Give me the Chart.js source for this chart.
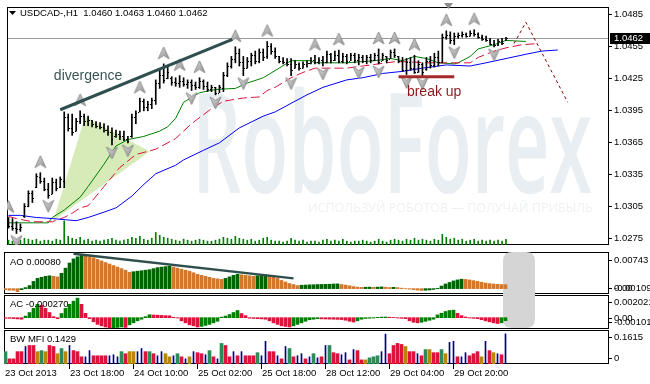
<!DOCTYPE html>
<html><head><meta charset="utf-8">
<script src="https://cdn.jsdelivr.net/npm/chart.js@4/dist/chart.umd.min.js"></script>
<style>
html,body{margin:0;padding:0;background:#fff;width:650px;height:384px;overflow:hidden;}
#wrap{position:relative;width:650px;height:384px;}
canvas{position:absolute;left:0;}
</style></head><body>
<div id="wrap">
<canvas id="cMain" width="650" height="252" style="top:0px"></canvas>
<canvas id="cAO" width="650" height="56" style="top:246px"></canvas>
<canvas id="cAC" width="650" height="46" style="top:289px"></canvas>
<canvas id="cMFI" width="650" height="60" style="top:324px"></canvas>
</div>
<script>
// ================= DATA =================
const symbol = 'USDCAD-,H1';
const xTickIndex = [0,16,32,48,64,80,96,112];
const xTickLabels = ['23 Oct 2013','23 Oct 18:00','24 Oct 10:00','25 Oct 02:00','25 Oct 18:00','28 Oct 12:00','29 Oct 04:00','29 Oct 20:00'];
const priceTicks = [1.0275,1.0305,1.0335,1.0365,1.0395,1.0425,1.0455,1.0485];
const aoTicks = [0.00743, 0, -0.00109];
const acTicks = [0.002021, 0, -0.00101];
const mfiTicks = [0.1615, 0];

const opens = [
1.0289,1.0286,1.0284,1.0283,1.0295,1.0305,1.0317,1.0323,1.0332,1.0328,
1.0321,1.0316,1.0327,1.0323,1.0328,1.0388,1.0378,1.0375,1.0384,1.0389,
1.0384,1.0385,1.0382,1.0380,1.0379,1.0376,1.0374,1.0370,1.0372,1.0370,
1.0368,1.0370,1.0388,1.0393,1.0403,1.0398,1.0400,1.0404,1.0420,1.0428,
1.0425,1.0425,1.0421,1.0420,1.0422,1.0419,1.0421,1.0418,1.0416,1.0422,
1.0417,1.0414,1.0416,1.0411,1.0415,1.0428,1.0436,1.0443,1.0448,1.0440,
1.0434,1.0441,1.0446,1.0441,1.0449,1.0445,1.0455,1.0450,1.0445,1.0441,
1.0440,1.0438,1.0434,1.0438,1.0434,1.0438,1.0439,1.0442,1.0440,1.0442,
1.0440,1.0447,1.0442,1.0446,1.0441,1.0445,1.0441,1.0446,1.0442,1.0444,
1.0441,1.0444,1.0442,1.0446,1.0441,1.0445,1.0443,1.0449,1.0445,1.0441,
1.0432,1.0440,1.0434,1.0430,1.0438,1.0433,1.0441,1.0437,1.0444,1.0440,
1.0463,1.0465,1.0460,1.0464,1.0465,1.0466,1.0464,1.0467,1.0466,1.0463,
1.0461,1.0460,1.0457,1.0456,1.0459,1.0460];
const highs = [
1.0294,1.0293,1.0290,1.0288,1.0307,1.0319,1.0319,1.0335,1.0336,1.0331,
1.0326,1.0331,1.0330,1.0332,1.0393,1.0391,1.0391,1.0387,1.0394,1.0391,
1.0389,1.0385,1.0384,1.0383,1.0382,1.0380,1.0378,1.0376,1.0375,1.0375,
1.0370,1.0391,1.0394,1.0406,1.0405,1.0403,1.0406,1.0423,1.0432,1.0438,
1.0436,1.0426,1.0425,1.0427,1.0425,1.0423,1.0423,1.0421,1.0425,1.0423,
1.0421,1.0418,1.0416,1.0418,1.0430,1.0439,1.0445,1.0454,1.0452,1.0445,
1.0444,1.0448,1.0450,1.0452,1.0452,1.0459,1.0457,1.0453,1.0445,1.0444,
1.0443,1.0443,1.0441,1.0439,1.0440,1.0441,1.0444,1.0446,1.0444,1.0445,
1.0450,1.0448,1.0450,1.0451,1.0448,1.0447,1.0448,1.0448,1.0447,1.0446,
1.0446,1.0447,1.0448,1.0452,1.0448,1.0445,1.0451,1.0452,1.0445,1.0444,
1.0443,1.0444,1.0446,1.0441,1.0439,1.0444,1.0445,1.0448,1.0450,1.0466,
1.0469,1.0468,1.0467,1.0467,1.0468,1.0467,1.0469,1.0470,1.0467,1.0465,
1.0464,1.0462,1.0460,1.0461,1.0462,1.0463];
const lows = [
1.0284,1.0282,1.0279,1.0281,1.0294,1.0304,1.0308,1.0322,1.0326,1.0319,
1.0312,1.0316,1.0319,1.0322,1.0322,1.0375,1.0371,1.0375,1.0382,1.0380,
1.0380,1.0379,1.0378,1.0377,1.0374,1.0371,1.0362,1.0369,1.0367,1.0366,
1.0364,1.0369,1.0382,1.0393,1.0394,1.0394,1.0396,1.0400,1.0415,1.0420,
1.0424,1.0418,1.0417,1.0416,1.0417,1.0415,1.0413,1.0414,1.0415,1.0414,
1.0412,1.0412,1.0409,1.0411,1.0412,1.0426,1.0434,1.0439,1.0436,1.0427,
1.0434,1.0436,1.0438,1.0439,1.0441,1.0443,1.0447,1.0443,1.0439,1.0438,
1.0436,1.0427,1.0434,1.0432,1.0434,1.0435,1.0438,1.0438,1.0438,1.0436,
1.0439,1.0439,1.0441,1.0439,1.0439,1.0438,1.0441,1.0439,1.0437,1.0439,
1.0438,1.0439,1.0441,1.0438,1.0441,1.0439,1.0443,1.0444,1.0439,1.0431,
1.0428,1.0432,1.0429,1.0430,1.0427,1.0432,1.0434,1.0435,1.0436,1.0439,
1.0461,1.0457,1.0456,1.0462,1.0463,1.0463,1.0464,1.0464,1.0462,1.0460,
1.0459,1.0456,1.0454,1.0455,1.0456,1.0460];
const closes = [
1.0286,1.0284,1.0283,1.0285,1.0305,1.0317,1.0312,1.0333,1.0328,1.0321,
1.0315,1.0327,1.0322,1.0330,1.0388,1.0378,1.0374,1.0384,1.0389,1.0384,
1.0385,1.0382,1.0380,1.0379,1.0376,1.0374,1.0368,1.0372,1.0370,1.0368,
1.0366,1.0388,1.0392,1.0403,1.0398,1.0400,1.0404,1.0420,1.0428,1.0423,
1.0430,1.0421,1.0420,1.0422,1.0419,1.0421,1.0418,1.0416,1.0422,1.0417,
1.0414,1.0416,1.0411,1.0416,1.0428,1.0436,1.0443,1.0448,1.0440,1.0434,
1.0441,1.0446,1.0441,1.0449,1.0444,1.0455,1.0450,1.0445,1.0441,1.0440,
1.0438,1.0432,1.0438,1.0434,1.0438,1.0439,1.0442,1.0440,1.0442,1.0440,
1.0447,1.0442,1.0446,1.0441,1.0445,1.0441,1.0446,1.0442,1.0444,1.0441,
1.0444,1.0442,1.0446,1.0440,1.0446,1.0442,1.0449,1.0446,1.0441,1.0432,
1.0440,1.0434,1.0430,1.0438,1.0430,1.0441,1.0437,1.0444,1.0440,1.0463,
1.0465,1.0460,1.0464,1.0465,1.0466,1.0464,1.0467,1.0466,1.0463,1.0461,
1.0460,1.0457,1.0456,1.0459,1.0458,1.0462];
const volumes = [
500,400,600,500,700,600,500,600,400,500,
500,400,600,500,2500,900,700,600,800,500,
600,400,500,400,500,600,700,500,400,500,
600,800,700,900,600,500,700,1300,1000,800,
700,600,500,400,600,500,400,500,600,500,
400,400,500,600,800,700,600,900,700,600,
500,600,400,500,700,800,500,400,400,300,
400,700,500,400,500,300,400,400,300,500,
600,400,500,400,600,400,300,400,400,500,
400,300,400,600,400,300,500,600,500,400,
600,500,700,500,600,500,400,600,500,1100,
800,600,700,500,600,400,500,600,400,500,
400,500,400,500,400,600];

// Alligator lines as [bar index, price]
const jawBlue = [[0,1.0296],[3,1.0296],[7,1.0294],[11,1.0293],[17,1.0291],[20,1.0294],[24,1.0299],[27,1.0303],[31,1.0314],[34,1.0325],[37,1.0335],[42,1.0343],[44,1.0348],[49,1.0357],[53,1.0364],[58,1.0378],[64,1.0389],[67,1.0393],[71,1.0401],[75,1.0409],[79,1.0416],[85,1.0423],[89,1.0425],[94,1.0429],[99,1.0431],[104,1.0434],[110,1.0437],[116,1.0436],[120,1.0439],[125,1.0443],[130,1.0447],[134,1.0450],[138,1.0451]];
const teethRed = [[0,1.0295],[2,1.0293],[6,1.0290],[11,1.0290],[14,1.0294],[16,1.0298],[18,1.0303],[20,1.0305],[24,1.0323],[28,1.0341],[32,1.0353],[37,1.0358],[42,1.0368],[46,1.0382],[51,1.0396],[54,1.0403],[59,1.0406],[63,1.0407],[65,1.0413],[67,1.0416],[71,1.0425],[74,1.0430],[77,1.0434],[85,1.0434],[89,1.0436],[93,1.0438],[97,1.0440],[100,1.0440],[105,1.0439],[116,1.0439],[118,1.0444],[122,1.0450],[125,1.0453],[129,1.0456],[133,1.0457]];
const lipsGreen = [[0,1.0289],[10,1.0289],[11,1.0294],[14,1.0301],[18,1.0313],[20,1.0323],[24,1.0344],[27,1.0361],[30,1.0367],[34,1.0370],[38,1.0375],[40,1.0379],[42,1.0387],[44,1.0402],[48,1.0411],[52,1.0414],[57,1.0415],[60,1.0420],[64,1.0425],[68,1.0434],[71,1.0441],[76,1.0441],[77,1.0439],[85,1.0439],[92,1.0441],[96,1.0443],[99,1.0441],[102,1.0445],[105,1.0443],[108,1.0439],[112,1.0438],[113,1.0439],[116,1.0445],[118,1.0452],[122,1.0456],[125,1.0460],[130,1.0459]];

const fractalUp = [0,8,18,33,39,43,48,57,65,77,83,93,97,102,110,117];
const fractalDown = [2,10,26,30,46,52,59,71,79,88,93,100,104,112,122];

const divergencePrice = [[13,1.0395],[56.25,1.0461]];
const divergenceAO = [[17,0.00707],[72,0.00208]];
const breakUpLine = [[98,1.0426],[112,1.0426]];
const projection = [[127,1.0457],[130,1.0477],[140.5,1.0402]];
const greenTriangle = [[11.25,1.02909],[19.25,1.03884],[35.5,1.03559]];
const notes = [{text:'divergence', x:11.4, y:1.04263, color:'#3b5555'},{text:'break up', x:100.1, y:1.04119, color:'#8b1c1c'}];

const aoValues = [
-0.00021,-0.00031,-0.00033,-0.00062,-0.00021,0.00021,0.00062,0.00146,0.00208,0.00229,
0.00250,0.00260,0.00250,0.00239,0.00312,0.00416,0.00520,0.00603,0.00645,0.00676,
0.00666,0.00645,0.00624,0.00593,0.00562,0.00530,0.00499,0.00468,0.00437,0.00406,
0.00374,0.00333,0.00343,0.00354,0.00364,0.00374,0.00385,0.00406,0.00426,0.00437,
0.00447,0.00458,0.00437,0.00416,0.00395,0.00374,0.00354,0.00322,0.00291,0.00270,
0.00250,0.00229,0.00208,0.00198,0.00187,0.00208,0.00239,0.00270,0.00291,0.00281,
0.00270,0.00260,0.00250,0.00260,0.00270,0.00277,0.00260,0.00239,0.00208,0.00166,
0.00135,0.00104,0.00083,0.00062,0.00069,0.00073,0.00077,0.00079,0.00083,0.00085,
0.00087,0.00089,0.00094,0.00096,0.00083,0.00073,0.00058,0.00042,0.00031,0.00025,
0.00029,0.00031,0.00027,0.00031,0.00035,0.00029,0.00023,0.00027,0.00021,0.00010,
-0.00004,-0.00010,-0.00021,-0.00031,-0.00037,-0.00033,-0.00027,-0.00017,0.00006,0.00052,
0.00094,0.00125,0.00156,0.00177,0.00191,0.00187,0.00177,0.00162,0.00146,0.00129,
0.00114,0.00102,0.00094,0.00087,0.00083,0.00080];
const acValues = [
-0.00005,-0.00006,-0.00009,-0.00011,-0.00014,0.00014,0.00046,0.00083,0.00119,0.00110,
0.00083,0.00046,0.00009,-0.00009,0.00037,0.00083,0.00119,0.00147,0.00174,0.00119,
0.00039,-0.00009,-0.00037,-0.00060,-0.00073,-0.00083,-0.00092,-0.00090,-0.00087,-0.00083,
-0.00087,-0.00064,-0.00046,-0.00028,-0.00014,0.00009,0.00026,0.00024,0.00022,0.00020,
0.00018,0.00017,0.00003,-0.00003,-0.00028,-0.00046,-0.00064,-0.00073,-0.00083,-0.00078,
-0.00069,-0.00060,-0.00046,-0.00032,0.00005,0.00014,0.00028,0.00046,0.00064,0.00037,
0.00018,-0.00005,-0.00007,-0.00009,-0.00011,-0.00014,-0.00028,-0.00046,-0.00060,-0.00073,
-0.00078,-0.00083,-0.00073,-0.00060,-0.00046,-0.00032,-0.00018,-0.00014,-0.00009,-0.00011,
-0.00012,-0.00013,-0.00014,-0.00015,-0.00017,-0.00023,-0.00032,-0.00039,-0.00028,-0.00014,
-0.00007,-0.00005,-0.00003,0.00003,0.00005,0.00006,0.00004,0.00002,-0.00003,-0.00006,
-0.00009,-0.00028,-0.00041,-0.00046,-0.00041,-0.00032,-0.00023,-0.00014,0.00025,0.00039,
0.00055,0.00064,0.00067,0.00039,0.00018,0.00006,-0.00003,-0.00006,-0.00009,-0.00018,
-0.00028,-0.00037,-0.00046,-0.00052,-0.00046,-0.00027];
const mfiValues = [
0.0587,0.0245,0.0245,0.0587,0.0587,0.0831,0.0880,0.0880,0.0587,0.0636,
0.0587,0.0880,0.0831,0.0489,0.0734,0.0587,0.0880,0.0636,0.0587,0.0342,
0.0342,0.0636,0.0391,0.0391,0.0391,0.0391,0.0391,0.0440,0.0342,0.0587,
0.0489,0.0587,0.0587,0.0587,0.0734,0.0587,0.0587,0.0489,0.0391,0.0587,
0.0489,0.0342,0.0391,0.0489,0.0342,0.0245,0.0342,0.0587,0.0538,0.0489,
0.0440,0.0636,0.0342,0.0245,0.0978,0.0880,0.0342,0.0587,0.0391,0.0587,
0.0391,0.0391,0.0391,0.0538,0.0391,0.1076,0.0587,0.0587,0.0391,0.0245,
0.0831,0.0734,0.0342,0.0391,0.0489,0.0245,0.0342,0.0489,0.0293,0.0342,
0.0880,0.0880,0.0538,0.0489,0.0440,0.0538,0.0196,0.0685,0.0636,0.0196,
0.0196,0.0293,0.0342,0.0391,0.0587,0.1418,0.0489,0.0880,0.0978,0.0929,
0.0831,0.0587,0.0587,0.0489,0.0391,0.0685,0.0685,0.0538,0.0538,0.0685,
0.0489,0.1027,0.1076,0.0342,0.0342,0.0538,0.0391,0.0489,0.0587,0.0342,
0.1076,0.0636,0.0538,0.0489,0.0440,0.1429];
// g = green (MFI up, vol up), y = fade, b = fake, r = squat
const mfiKinds = 'grrrrbrrygyrrygybrrrbbrrrrbbbgryybbrgrbbyybgrbybrrbgrbgrrbrbrrrgbbrrbrbgrbbrbgbrbgrrbbrbrrygggbbrrrryrrbrgyrrgybbrbbrrrybrybrb';

// ================= STYLE / HELPERS =================
const X_MIN = -0.375, X_MAX = 150.875;
const FONT = '9.5px "Liberation Sans", Arial, sans-serif';
const PAD = (top,bottom)=>({left:4,right:41,top:top,bottom:bottom});
const pts = pairs => pairs.map(p => ({x:p[0], y:p[1]}));
const upDown = (arr, up, down) => arr.map((v,i)=> i===0 ? down : (v > arr[i-1] ? up : down));
const last = closes.length - 1;

function arrowImg(dir){
  const c = document.createElement('canvas'); c.width = 13; c.height = 40;
  const g = c.getContext('2d');
  const t = dir === 'up' ? 3 : 22;
  g.beginPath();
  if (dir === 'up'){ g.moveTo(6.5,t); g.lineTo(12,t+12); g.lineTo(6.5,t+8.5); g.lineTo(1,t+12); }
  else { g.moveTo(6.5,t+12); g.lineTo(12,t); g.lineTo(6.5,t+3.5); g.lineTo(1,t); }
  g.closePath();
  const gr = g.createLinearGradient(0,t,13,t+12);
  gr.addColorStop(0,'#e0e0e0'); gr.addColorStop(1,'#8a8a8a');
  g.fillStyle = gr; g.fill();
  g.strokeStyle = '#8e8e8e'; g.lineWidth = 1; g.stroke();
  return c;
}
const upImg = arrowImg('up'), downImg = arrowImg('down');

function frame(chart){
  const {ctx, chartArea:a} = chart;
  ctx.save(); ctx.strokeStyle = '#000'; ctx.lineWidth = 1;
  ctx.strokeRect(a.left+0.5, a.top+0.5, a.right-a.left-1, a.bottom-a.top-1);
  ctx.restore();
}
const rightLabels = {
  id:'rlabels',
  afterDraw(chart, args, o){
    const {ctx, chartArea:a} = chart; const ys = chart.scales.y;
    ctx.save(); ctx.font = FONT; ctx.fillStyle = '#000'; ctx.textBaseline = 'middle'; ctx.textAlign = 'left';
    o.values.forEach(v => {
      let y = ys.getPixelForValue(v);
      if (o.clamp) y = Math.min(Math.max(y, a.top + o.clamp[0]), a.bottom - o.clamp[1]);
      y = Math.round(y);
      ctx.fillRect(a.right, y, 3, 1);
      ctx.fillText(o.format(v), a.right + 5, y + 0.5);
    });
    ctx.restore();
  }
};
function panelTitle(chart, text, dy){
  const {ctx, chartArea:a} = chart;
  ctx.save(); ctx.font = FONT; ctx.fillStyle = '#000'; ctx.textBaseline = 'middle';
  ctx.fillText(text, a.left + 6, a.top + dy);
  ctx.restore();
}
function shade(chart, canvasTop){
  const ctx = chart.ctx;
  const x = 503, y = 252 - canvasTop, w = 32, h = 76, r = 9;
  ctx.save(); ctx.fillStyle = '#d5d5d5';
  ctx.beginPath();
  ctx.moveTo(x+r,y); ctx.lineTo(x+w-r,y); ctx.quadraticCurveTo(x+w,y,x+w,y+r);
  ctx.lineTo(x+w,y+h-r); ctx.quadraticCurveTo(x+w,y+h,x+w-r,y+h);
  ctx.lineTo(x+r,y+h); ctx.quadraticCurveTo(x,y+h,x,y+h-r);
  ctx.lineTo(x,y+r); ctx.quadraticCurveTo(x,y,x+r,y);
  ctx.fill(); ctx.restore();
}
function baseOptions(yScales, padding, plugins){
  return {
    responsive:false, animation:false, events:[],
    layout:{padding:padding},
    scales:Object.assign({x:{type:'linear', min:X_MIN, max:X_MAX, display:false, offset:false}}, yScales),
    plugins:Object.assign({legend:{display:false}, tooltip:{enabled:false}}, plugins)
  };
}

// ================= MAIN CHART =================
const mainDecor = {
  id:'mainDecor',
  beforeDatasetsDraw(chart){
    const {ctx, chartArea:a, scales:{x:xs, y:ys}} = chart;
    ctx.save();
    // watermark
    ctx.fillStyle = '#e9eef2';
    ctx.font = '600 140px "Open Sans", sans-serif';
    const wm = 'RoboForex';
    const w0 = ctx.measureText(wm).width;
    ctx.translate(192, 193); ctx.scale(400 / w0, 1);
    ctx.fillText(wm, 0, 0);
    ctx.setTransform(1,0,0,1,0,0);
    ctx.fillStyle = '#eef1f4';
    ctx.font = '13px "Open Sans", sans-serif';
    const sl = 'ИСПОЛЬЗУЙ РОБОТОВ — ПОЛУЧАЙ ПРИБЫЛЬ';
    const sw = ctx.measureText(sl).width;
    ctx.translate(308, 212); ctx.scale(285 / sw, 1);
    ctx.fillText(sl, 0, 0);
    ctx.setTransform(1,0,0,1,0,0);
    // green triangle
    ctx.fillStyle = 'rgba(200,228,160,0.75)';
    ctx.beginPath();
    greenTriangle.forEach((p,k) => { const X = xs.getPixelForValue(p[0]), Y = ys.getPixelForValue(p[1]); if (k) ctx.lineTo(X,Y); else ctx.moveTo(X,Y); });
    ctx.closePath(); ctx.fill();
    // bid line
    const yb = Math.round(ys.getPixelForValue(closes[last]));
    ctx.fillStyle = '#9a9a9a'; ctx.fillRect(a.left, yb, a.right - a.left, 1);
    ctx.restore();
    frame(chart);
  },
  afterDatasetsDraw(chart){
    const {ctx, scales:{x:xs, y:ys}} = chart;
    ctx.save(); ctx.fillStyle = '#000';
    for (let i = 0; i <= last; i++){
      const x = Math.floor(xs.getPixelForValue(i));
      ctx.fillRect(x-1, Math.round(ys.getPixelForValue(opens[i])), 1, 1);
      ctx.fillRect(x+1, Math.round(ys.getPixelForValue(closes[i])), 1, 1);
    }
    ctx.font = '14px "Liberation Sans", Arial, sans-serif'; ctx.textBaseline = 'middle';
    notes.forEach(n => { ctx.fillStyle = n.color; ctx.fillText(n.text, xs.getPixelForValue(n.x), ys.getPixelForValue(n.y)); });
    ctx.restore();
  },
  afterDraw(chart){
    const {ctx, chartArea:a, scales:{y:ys}} = chart;
    ctx.save();
    // header
    ctx.fillStyle = '#000';
    ctx.beginPath(); ctx.moveTo(9,11); ctx.lineTo(16,11); ctx.lineTo(12.5,15); ctx.closePath(); ctx.fill();
    ctx.font = FONT; ctx.textBaseline = 'middle';
    const f = v => v.toFixed(4);
    ctx.fillText(symbol + '  ' + f(opens[last]) + ' ' + f(highs[last]) + ' ' + f(lows[last]) + ' ' + f(closes[last]), 20, 13.5);
    // price box
    const yb = Math.round(ys.getPixelForValue(closes[last]));
    ctx.fillRect(a.right + 1, yb - 5, 650 - a.right - 1, 11);
    ctx.fillStyle = '#fff'; ctx.fillText(f(closes[last]), a.right + 5, yb + 0.5);
    // chart shift marker
    ctx.fillStyle = '#8c8c8c';
    ctx.beginPath(); ctx.moveTo(444,3); ctx.lineTo(453,3); ctx.lineTo(448.5,9); ctx.closePath(); ctx.fill();
    ctx.restore();
  }
};

new Chart(document.getElementById('cMain'), {
  type:'bar',
  data:{datasets:[
    {type:'bar', label:'Volume', data:volumes.map((v,i)=>({x:i,y:v})), yAxisID:'yVol', backgroundColor:'#008000', barThickness:1, grouped:false, order:9},
    {type:'line', label:'Jaw', data:pts(jawBlue), borderColor:'#0000ff', borderWidth:1, pointRadius:0, tension:0, order:7},
    {type:'line', label:'Teeth', data:pts(teethRed), borderColor:'#dc143c', borderWidth:1, borderDash:[9,4], pointRadius:0, tension:0, order:7},
    {type:'line', label:'Lips', data:pts(lipsGreen), borderColor:'#008000', borderWidth:1, pointRadius:0, tension:0, order:7},
    {type:'bar', label:'Range', data:highs.map((h,i)=>({x:i,y:[lows[i],h]})), backgroundColor:'#000', barThickness:1, grouped:false, order:5},
    {type:'line', label:'Fractal up', data:fractalUp.map(i=>({x:i,y:highs[i]})), showLine:false, pointStyle:upImg, pointRadius:6, order:3},
    {type:'line', label:'Fractal down', data:fractalDown.map(i=>({x:i,y:lows[i]})), showLine:false, pointStyle:downImg, pointRadius:6, order:3},
    {type:'line', label:'Divergence', data:pts(divergencePrice), borderColor:'#2f4f4f', borderWidth:3, pointRadius:0, order:2},
    {type:'line', label:'Break up', data:pts(breakUpLine), borderColor:'#a52a2a', borderWidth:3, pointRadius:0, order:2},
    {type:'line', label:'Projection', data:pts(projection), borderColor:'#8b0000', borderWidth:1, borderDash:[3,3], pointRadius:0, order:2}
  ]},
  options:baseOptions({
    y:{type:'linear', min:1.026821, max:1.049132, display:false},
    yVol:{type:'linear', min:0, max:24700, display:false}
  }, PAD(4,1), {rlabels:{values:priceTicks, format:v=>v.toFixed(4)}}),
  plugins:[mainDecor, rightLabels]
});

// ================= AO =================
new Chart(document.getElementById('cAO'), {
  type:'bar',
  data:{datasets:[
    {label:'AO', data:aoValues.map((v,i)=>({x:i,y:v})), backgroundColor:upDown(aoValues,'#006400','#d2782d'), barThickness:3, grouped:false, order:5},
    {type:'line', label:'AO divergence', data:pts(divergenceAO), borderColor:'#2f4f4f', borderWidth:2.5, pointRadius:0, order:1}
  ]},
  options:baseOptions({y:{type:'linear', min:-0.00109, max:0.00743, display:false}}, PAD(6,8),
    {rlabels:{values:aoTicks, clamp:[8,6], format:v=> v===0 ? '0.00' : String(v)}}),
  plugins:[{id:'aoDecor', beforeDatasetsDraw(c){ frame(c); shade(c,246); }, afterDraw(c){ panelTitle(c, 'AO ' + aoValues[last].toFixed(5), 10); }}, rightLabels]
});

// ================= AC =================
new Chart(document.getElementById('cAC'), {
  type:'bar',
  data:{datasets:[
    {label:'AC', data:acValues.map((v,i)=>({x:i,y:v})), backgroundColor:upDown(acValues,'#008000','#dc143c'), barThickness:3, grouped:false}
  ]},
  options:baseOptions({y:{type:'linear', min:-0.00101, max:0.002021, display:false}}, PAD(6,6),
    {rlabels:{values:acTicks, clamp:[7,7], format:v=> v===0 ? '0.00' : String(v)}}),
  plugins:[{id:'acDecor', beforeDatasetsDraw(c){ frame(c); shade(c,289); }, afterDraw(c){ panelTitle(c, 'AC ' + acValues[last].toFixed(6), 9); }}, rightLabels]
});

// ================= BW MFI =================
const mfiColors = {g:'#2e8b57', y:'#b8860b', r:'#dc143c', b:'#000080'};
const mfiIdx = mfiValues.map((v,i)=>i);
const solidIdx = mfiIdx.filter(i => mfiKinds[i] !== 'b');
const navyIdx = mfiIdx.filter(i => mfiKinds[i] === 'b');
const xAxisLabels = {
  id:'xlabels',
  afterDraw(chart){
    const {ctx, chartArea:a, scales:{x:xs}} = chart;
    ctx.save(); ctx.font = FONT; ctx.fillStyle = '#000'; ctx.textBaseline = 'middle'; ctx.textAlign = 'left';
    xTickIndex.forEach((i,k) => {
      const x = Math.floor(xs.getPixelForValue(i));
      if (k > 0) ctx.fillRect(x, a.bottom, 1, 5);
      ctx.fillText(xTickLabels[k], k > 0 ? x + 1 : x, a.bottom + 9.5);
    });
    ctx.restore();
  }
};
new Chart(document.getElementById('cMFI'), {
  type:'bar',
  data:{datasets:[
    {label:'MFI', data:solidIdx.map(i=>({x:i,y:mfiValues[i]})), backgroundColor:solidIdx.map(i=>mfiColors[mfiKinds[i]]), barThickness:3, grouped:false},
    {label:'MFI fake', data:navyIdx.map(i=>({x:i,y:mfiValues[i]})), backgroundColor:mfiColors.b, barThickness:1, grouped:false}
  ]},
  options:baseOptions({y:{type:'linear', min:0, max:0.1615, display:false}}, PAD(6,20),
    {rlabels:{values:mfiTicks, clamp:[7,6], format:v=> String(v)}}),
  plugins:[{id:'mfiDecor', beforeDatasetsDraw(c){ frame(c); }, afterDraw(c){ panelTitle(c, 'BW MFI ' + mfiValues[last].toFixed(4), 9); }}, rightLabels, xAxisLabels]
});
</script>
</body></html>
